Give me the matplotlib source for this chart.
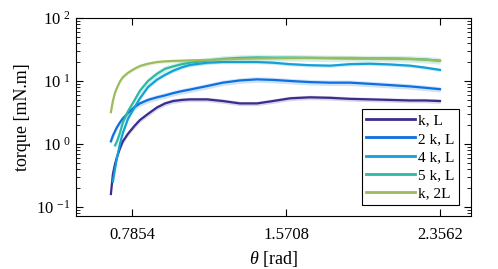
import numpy as np
import matplotlib.pyplot as plt
from matplotlib.ticker import FixedLocator, FuncFormatter, LogLocator, NullFormatter

plt.rcParams['font.family'] = 'Liberation Serif'
plt.rcParams['mathtext.fontset'] = 'custom'
plt.rcParams['mathtext.rm'] = 'Liberation Serif'
plt.rcParams['mathtext.it'] = 'Liberation Serif:italic'

# angle grid [rad]
theta = [0.678, 0.688, 0.699, 0.709, 0.724, 0.739, 0.765, 0.796, 0.826, 0.867,
         0.913, 0.954, 0.995, 1.040, 1.081, 1.168, 1.249, 1.336, 1.423, 1.504,
         1.591, 1.693, 1.795, 1.897, 1.999, 2.101, 2.203, 2.280, 2.356]

nan = np.nan
# torque [mN.m]
k_L = [0.16, 0.33, 0.48, 0.62, 0.85, 1.1, 1.45, 1.9, 2.4, 3.0,
       3.8, 4.4, 4.8, 5.0, 5.1, 5.1, 4.8, 4.4, 4.4, 4.8,
       5.3, 5.5, 5.4, 5.2, 5.1, 5.0, 4.9, 4.9, 4.8]
k2_L = [1.1, 1.35, 1.6, 1.85, 2.2, 2.55, 3.1, 3.8, 4.4, 5.0,
        5.5, 5.9, 6.4, 6.9, 7.3, 8.3, 9.4, 10.2, 10.6, 10.4,
        10.0, 9.6, 9.4, 9.4, 9.0, 8.6, 8.2, 7.8, 7.4]
k4_L = [nan, 0.25, 0.4, 0.6, 1.0, 1.5, 2.5, 3.7, 5.3, 8.0,
        10.5, 12.5, 14.5, 16.5, 18, 19.5, 20, 20, 20, 19.5,
        18.5, 17.8, 17.5, 18.5, 18.8, 18.3, 17.5, 16.3, 15]
k5_L = [nan, nan, 0.95, 1.1, 1.5, 2.2, 3.3, 4.8, 7.0, 10,
        13, 15.6, 17, 18.5, 19.5, 21, 22.5, 23.3, 23.7, 23.5,
        23.5, 23.3, 23, 22.8, 22.8, 22.8, 22.5, 22, 21]
k_2L = [3.2, 4.8, 6.5, 7.8, 9.8, 11.5, 13.5, 15.5, 17.3, 18.8,
        20, 20.5, 20.8, 21, 21.2, 21.6, 22, 22.5, 22.8, 23,
        23.2, 23.3, 23.3, 23.3, 23, 22.7, 22.3, 21.8, 21]

labels = ['k, L', '2 k, L', '4 k, L', '5 k, L', 'k, 2L']
colors = ['#3a2d8c', '#0f6fe0', '#139fd8', '#2db9a3', '#9cbb5d']
# relative spread of the shaded bands
spread = [0.08, 0.10, 0.06, 0.12, 0.06]

fig = plt.figure(figsize=(4.98, 2.69), dpi=100)
ax = fig.add_axes([0.1526, 0.197, 0.7932, 0.736])

th = np.array(theta)
for y, lab, c, s in zip([k_L, k2_L, k4_L, k5_L, k_2L], labels, colors, spread):
    y = np.array(y, dtype=float)
    ax.fill_between(th, y * (1 - s), y * (1 + s), color=c, alpha=0.2, lw=0)
    ax.plot(th, y, color=c, lw=1.6, label=lab)

ax.set_yscale('log')
ax.set_xlim(0.5, 2.514)
ax.set_ylim(0.0716, 100)

ax.xaxis.set_major_locator(FixedLocator([0.7854, 1.5708, 2.3562]))
ax.xaxis.set_major_formatter(FuncFormatter(lambda v, p: '%.4f' % v))
ax.yaxis.set_major_locator(FixedLocator([0.1, 1, 10, 100]))
ax.yaxis.set_minor_locator(LogLocator(base=10, subs=np.arange(2, 10)))
ax.yaxis.set_minor_formatter(NullFormatter())
ax.yaxis.set_major_formatter(FuncFormatter(
    lambda v, p: '10 $^{\\mathregular{%d}}$' % int(round(np.log10(v)))))

ax.tick_params(which='both', direction='in', top=True, right=True, labelsize=12)
ax.tick_params(which='major', length=5, width=0.8)
ax.tick_params(which='minor', length=3, width=0.6)
ax.tick_params(axis='x', pad=8)
for sp in ax.spines.values():
    sp.set_linewidth(0.8)

ax.set_xlabel('$\\theta$ [rad]', fontsize=13)
ax.set_ylabel('torque [mN.m]', fontsize=13)

leg = ax.legend(loc='lower right', bbox_to_anchor=(0.97, 0.055), borderaxespad=0,
                fontsize=11, handlelength=3.2, handletextpad=0.2, labelspacing=0.3,
                borderpad=0.3, fancybox=False, framealpha=1, edgecolor='black')
leg.get_frame().set_linewidth(0.8)
for ln in leg.get_lines():
    ln.set_linewidth(2.0)

fig.savefig('out.png', dpi=100)
